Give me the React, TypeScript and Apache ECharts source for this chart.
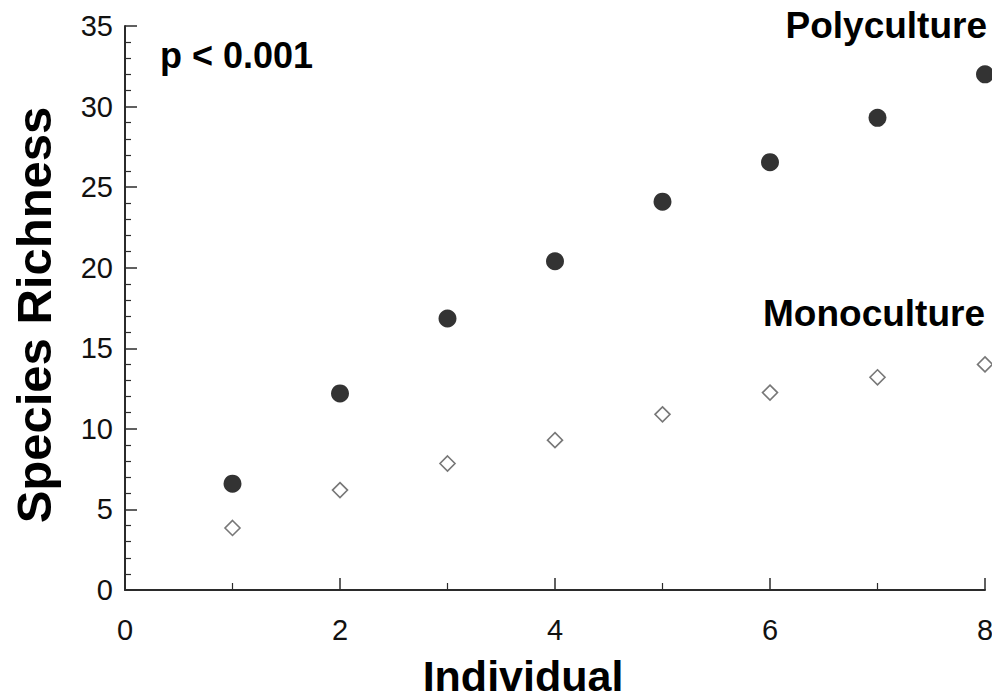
import React, { useEffect, useRef } from "react";
import * as echarts from "echarts";

// Number of individuals pooled
const individuals = [1, 2, 3, 4, 5, 6, 7, 8];
// Cumulative species richness
const polyculture = [6.6, 12.2, 16.85, 20.4, 24.1, 26.55, 29.3, 32.0];
const monoculture = [3.85, 6.2, 7.85, 9.3, 10.9, 12.25, 13.2, 14.0];

const xTicks = [0, 2, 4, 6, 8];
const yTicks = [0, 5, 10, 15, 20, 25, 30, 35];

const FONT = '"Liberation Sans", Arial, Helvetica, sans-serif';
const AXIS = "#2b2b2b";

export default function App() {
  const ref = useRef<HTMLDivElement>(null);

  useEffect(() => {
    if (!ref.current) return;
    const chart = echarts.init(ref.current, null, { renderer: "svg" });

    const toPairs = (ys: number[]) => individuals.map((x, i) => [x, ys[i]]);

    chart.setOption({
      animation: false,
      backgroundColor: "#ffffff",
      grid: {
        left: 125,
        right: 7,
        top: 26,
        bottom: 110,
        containLabel: false,
        outerBoundsMode: "none",
      },
      xAxis: {
        type: "value",
        min: 0,
        max: 8,
        interval: 2,
        splitLine: { show: false },
        axisLine: { show: true, lineStyle: { color: AXIS, width: 2 } },
        axisTick: { show: true, inside: true, length: 12, lineStyle: { color: AXIS, width: 1.5 } },
        minorTick: { show: true, splitNumber: 2, length: 7, lineStyle: { color: AXIS, width: 1.2 } },
        axisLabel: {
          show: true,
          margin: 25,
          fontFamily: FONT,
          fontSize: 29,
          color: "#111",
          formatter: (v: number) => (xTicks.includes(v) ? String(v) : ""),
        },
      },
      yAxis: {
        type: "value",
        min: 0,
        max: 35,
        interval: 5,
        splitLine: { show: false },
        axisLine: { show: true, lineStyle: { color: AXIS, width: 2 } },
        axisTick: { show: true, inside: true, length: 12, lineStyle: { color: AXIS, width: 1.5 } },
        minorTick: { show: true, splitNumber: 5, length: 6, lineStyle: { color: AXIS, width: 1.2 } },
        axisLabel: {
          show: true,
          margin: 12,
          fontFamily: FONT,
          fontSize: 29,
          color: "#111",
          formatter: (v: number) => (yTicks.includes(v) ? String(v) : ""),
        },
      },
      series: [
        {
          name: "Polyculture",
          type: "scatter",
          data: toPairs(polyculture),
          symbol: "circle",
          symbolSize: 18,
          itemStyle: { color: "#000000" },
          clip: false,
        },
        {
          name: "Monoculture",
          type: "scatter",
          data: toPairs(monoculture),
          symbol: "diamond",
          symbolSize: 15,
          itemStyle: { color: "#ffffff", borderColor: "#555555", borderWidth: 1.6 },
          clip: false,
        },
      ],
      graphic: [
        {
          type: "text",
          left: 160,
          top: 37,
          style: { text: "p < 0.001", font: `bold 36px ${FONT}`, fill: "#000" },
        },
        {
          type: "text",
          right: 5,
          top: 7,
          style: { text: "Polyculture", font: `bold 37px ${FONT}`, fill: "#000" },
        },
        {
          type: "text",
          right: 7,
          top: 295,
          style: { text: "Monoculture", font: `bold 37px ${FONT}`, fill: "#000" },
        },
        {
          type: "text",
          x: 523,
          y: 676,
          style: {
            text: "Individual",
            font: `bold 43px ${FONT}`,
            fill: "#000",
            align: "center",
            verticalAlign: "middle",
          },
        },
        {
          type: "text",
          x: 34,
          y: 315,
          rotation: Math.PI / 2,
          style: {
            text: "Species Richness",
            font: `bold 49px ${FONT}`,
            fill: "#000",
            align: "center",
            verticalAlign: "middle",
          },
        },
      ],
    });

    return () => chart.dispose();
  }, []);

  return (
    <div
      ref={ref}
      style={{ position: "fixed", left: 0, top: 0, width: 992, height: 700, background: "#fff" }}
    />
  );
}
